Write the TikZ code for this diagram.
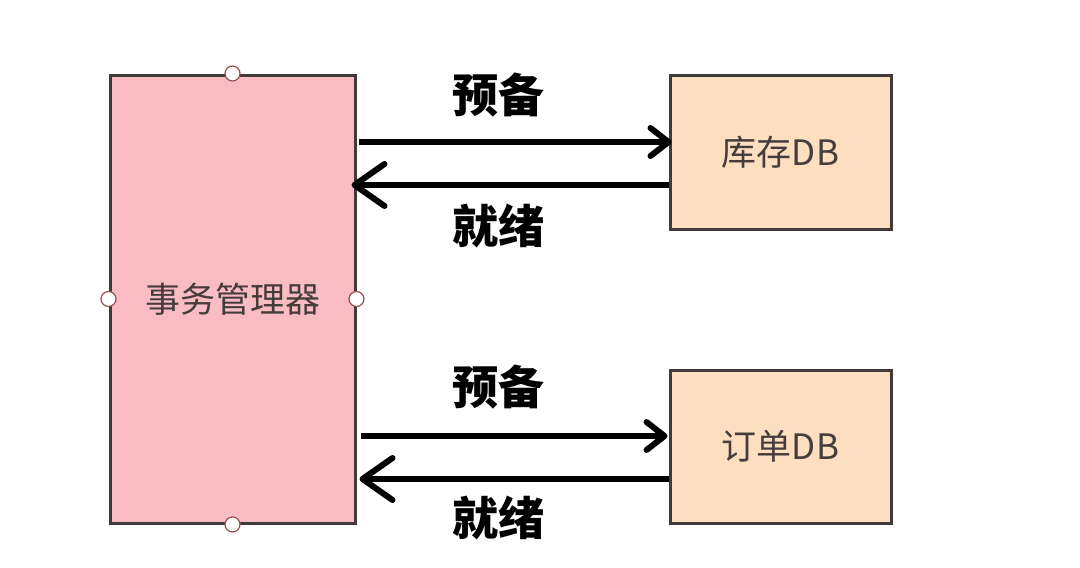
\documentclass[tikz,border=0pt]{standalone}
\usepackage{fontspec}
\setmainfont{Noto Sans CJK SC}
\usetikzlibrary{arrows.meta}
\definecolor{pinkfill}{RGB}{248,188,194}
\definecolor{peachfill}{RGB}{252,222,192}
\definecolor{edge}{RGB}{64,58,58}
\definecolor{handle}{RGB}{150,80,80}
\definecolor{txt}{RGB}{70,60,60}
\begin{document}
\begin{tikzpicture}[x=1pt,y=-1pt,
  box/.style={draw=edge,line width=3pt,inner sep=0pt,text=txt,font=\fontsize{35}{35}\selectfont},
  hdl/.style={circle,draw=handle,fill=white,line width=1.2pt,inner sep=0pt,minimum size=15pt},
  flowr/.style={line width=6pt,-{Straight Barb[length=18pt,width=28pt,line width=6pt,round]}},
  flowl/.style={line width=6pt,-{Straight Barb[length=30pt,width=42pt,line width=6pt,round]}},
  lbl/.style={font=\fontsize{46}{46}\selectfont\bfseries,text=black}]
\useasboundingbox (0,0) rectangle (1080,568);
\fill[white] (0,0) rectangle (1080,568);
\node[box,fill=pinkfill,minimum width=245pt,minimum height=448pt] (tm) at (232.5,299) {事务管理器};
\node[box,fill=peachfill,minimum width=221pt,minimum height=154pt] (inv) at (780.5,152) {库存DB};
\node[box,fill=peachfill,minimum width=221pt,minimum height=153pt] (ord) at (780.5,446.5) {订单DB};
\node[hdl] (h1) at (tm.north) {};
\node[hdl] (h2) at (tm.south) {};
\node[hdl] (h3) at (tm.west) {};
\node[hdl] (h4) at (tm.east) {};
\coordinate (a1s) at (tm.east |- 0,142);
\coordinate (a1e) at (inv.west |- 0,142);
\coordinate (a2s) at (inv.west |- 0,185);
\coordinate (a2e) at (tm.east |- 0,185);
\coordinate (a3s) at (tm.east |- 0,436);
\coordinate (a3e) at (ord.west |- 0,436);
\coordinate (a4s) at (ord.west |- 0,479);
\coordinate (a4e) at (tm.east |- 0,479);
\draw[flowr] ([xshift=2pt]a1s) -- ([xshift=3pt]a1e);
\draw[flowl] (a2s) -- ([xshift=-5pt]a2e);
\draw[flowr] ([xshift=4pt]a3s) -- ([xshift=-1pt]a3e);
\draw[flowl] (a4s) -- ([xshift=3pt]a4e);
\node[lbl] (l1) at (498,95) {预备};
\node[lbl] (l2) at (498,226) {就绪};
\node[lbl] (l3) at (498,387) {预备};
\node[lbl] (l4) at (498,518) {就绪};
\end{tikzpicture}
\end{document}
